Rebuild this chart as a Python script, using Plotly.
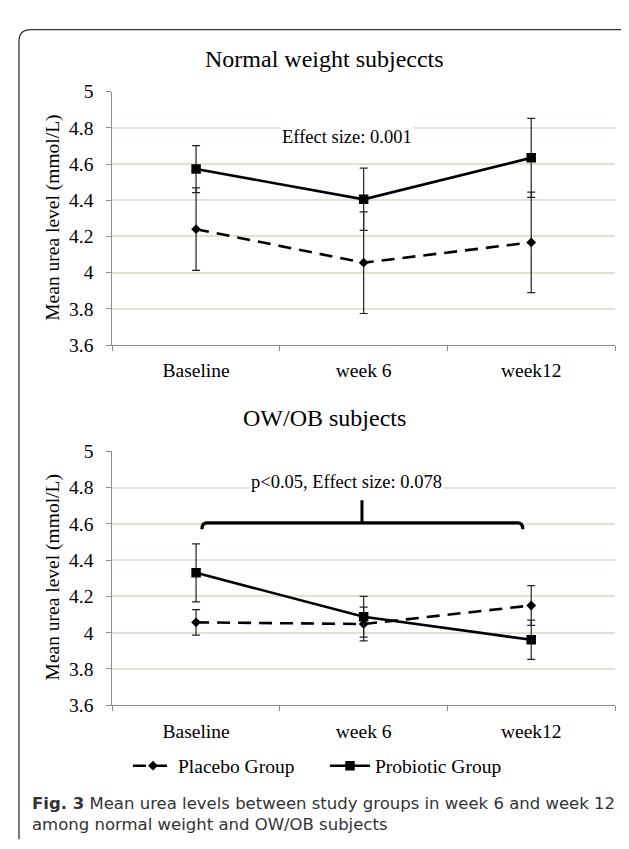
import plotly.graph_objects as go

# ---------------- data ----------------
categories = ["Baseline", "week 6", "week12"]

normal_placebo = [4.24, 4.055, 4.167]
normal_placebo_err = [0.228, 0.281, 0.278]
normal_probiotic = [4.572, 4.405, 4.634]
normal_probiotic_err = [0.13, 0.172, 0.218]

ow_placebo = [4.057, 4.048, 4.15]
ow_placebo_err = [0.07, 0.093, 0.11]
ow_probiotic = [4.33, 4.088, 3.961]
ow_probiotic_err = [0.16, 0.112, 0.108]

y_tick_vals = [3.6, 3.8, 4.0, 4.2, 4.4, 4.6, 4.8, 5.0]
y_tick_text = ["3.6", "3.8", "4", "4.2", "4.4", "4.6", "4.8", "5"]

top_title = "Normal weight subjeccts"
bottom_title = "OW/OB subjects"
top_note = "Effect size: 0.001"
bottom_note = "p<0.05, Effect size: 0.078"
y_title = "Mean urea level (mmol/L)"
series_names = ["Placebo Group", "Probiotic Group"]
caption = ("<b>Fig. 3</b> Mean urea levels between study groups in week 6 and week 12"
           "<br>among normal weight and OW/OB subjects")

# ---------------- layout helpers ----------------
W, H = 629, 849
SERIF = "Liberation Serif, Times New Roman, serif"
SANS = "DejaVu Sans, Open Sans, sans-serif"


def px(x):
    return x / W


def py(y):
    return 1 - y / H


x_dom = [px(104.3), px(607)]
top_dom = [py(335.3), py(75.5)]
bot_dom = [py(704.7), py(444.3)]

fig = go.Figure()


def add_series(xa, ya, placebo, placebo_err, probiotic, probiotic_err, show):
    fig.add_trace(go.Scatter(
        x=categories, y=placebo, xaxis=xa, yaxis=ya,
        name=series_names[0], showlegend=show, mode="lines+markers",
        line=dict(color="black", width=2.6, dash="13px,8px"),
        marker=dict(symbol="diamond", size=7.5, color="black"),
        error_y=dict(type="data", array=placebo_err, visible=True,
                     color="#222222", thickness=1.2, width=4),
    ))
    fig.add_trace(go.Scatter(
        x=categories, y=probiotic, xaxis=xa, yaxis=ya,
        name=series_names[1], showlegend=show, mode="lines+markers",
        line=dict(color="black", width=2.6),
        marker=dict(symbol="square", size=9.5, color="black"),
        error_y=dict(type="data", array=probiotic_err, visible=True,
                     color="#222222", thickness=1.2, width=4),
    ))


add_series("x", "y", normal_placebo, normal_placebo_err,
           normal_probiotic, normal_probiotic_err, False)
add_series("x2", "y2", ow_placebo, ow_placebo_err,
           ow_probiotic, ow_probiotic_err, True)

axis_x = dict(
    type="category", range=[-0.5, 2.5], tickson="boundaries",
    ticks="outside", ticklen=5, tickcolor="#8c8c8c", tickwidth=1,
    showline=True, linecolor="#8c8c8c", linewidth=1, showgrid=False,
    tickfont=dict(family=SERIF, size=19.5, color="black"),
    ticklabelstandoff=8,
    domain=x_dom, fixedrange=True, zeroline=False,
)
axis_y = dict(
    range=[3.6, 5.0], tickvals=y_tick_vals, ticktext=y_tick_text,
    ticks="outside", ticklen=5, tickcolor="#8c8c8c", tickwidth=1,
    showline=True, linecolor="#8c8c8c", linewidth=1,
    showgrid=True, gridcolor="#e4e0d3", gridwidth=1.6,
    tickfont=dict(family=SERIF, size=19.5, color="black"),
    ticklabelstandoff=9, zeroline=False, fixedrange=True,
)

fig.update_layout(
    width=W, height=H, autosize=False,
    margin=dict(l=0, r=0, t=0, b=0),
    paper_bgcolor="white", plot_bgcolor="white",
    xaxis=dict(axis_x, anchor="y"),
    yaxis=dict(axis_y, domain=top_dom, anchor="x"),
    xaxis2=dict(axis_x, anchor="y2"),
    yaxis2=dict(axis_y, domain=bot_dom, anchor="x2"),
    showlegend=True,
    legend=dict(orientation="h", x=px(120), y=py(767), xanchor="left",
                yanchor="middle", font=dict(family=SERIF, size=19.5, color="black"),
                bgcolor="rgba(0,0,0,0)", itemwidth=40, tracegroupgap=0,
                entrywidth=142, entrywidthmode="pixels"),
)

ann = []


def paper_text(text, x, y, size, family=SERIF, angle=0, xanchor="center", color="black"):
    ann.append(dict(text=text, x=px(x), y=py(y), xref="paper", yref="paper",
                    xanchor=xanchor, yanchor="middle", textangle=angle,
                    showarrow=False, align="left",
                    font=dict(family=family, size=size, color=color)))


paper_text(top_title, 317, 41.7, 24)
paper_text(bottom_title, 317, 410, 24)
paper_text(y_title, 45, 204.8, 19.5, angle=-90)
paper_text(y_title, 45, 573.6, 19.5, angle=-90)
paper_text(caption, 22, 816, 16.5, family=SANS, xanchor="left", color="#333333")

ann.append(dict(text=top_note, x=0.9, y=4.751, xref="x", yref="y",
                xanchor="center", yanchor="middle",
                showarrow=False, bgcolor="white",
                font=dict(family=SERIF, size=18.5, color="black")))
ann.append(dict(text=bottom_note, x=0.897, y=4.83, xref="x2", yref="y2",
                xanchor="center", yanchor="middle",
                showarrow=False, bgcolor="white",
                font=dict(family=SERIF, size=18.5, color="black")))
fig.update_layout(annotations=ann)

# significance bracket (bottom panel), in data units of x2/y2
b_left, b_right, b_mid = 0.035, 1.95, 0.99
b_level, b_foot, b_peak = 4.605, 4.57, 4.73
bracket_path = (
    f"M {b_left},{b_foot} Q {b_left},{b_level} {b_left + 0.03},{b_level} "
    f"L {b_right - 0.03},{b_level} Q {b_right},{b_level} {b_right},{b_foot}"
)
shapes = [
    dict(type="path", path=bracket_path, xref="x2", yref="y2",
         line=dict(color="black", width=3.2)),
    dict(type="line", x0=b_mid, x1=b_mid, y0=b_level, y1=b_peak,
         xref="x2", yref="y2", line=dict(color="black", width=3)),
]

# outer frame (pixels -> paper)
frame = (
    f"M {px(11)},{py(842)} L {px(11)},{py(24)} Q {px(11)},{py(12)} {px(23)},{py(12)} "
    f"L {px(617)},{py(12)} Q {px(627)},{py(12)} {px(627)},{py(20)}"
)
shapes.append(dict(type="path", path=frame, xref="paper", yref="paper",
                   line=dict(color="#333333", width=1.3)))
fig.update_layout(shapes=shapes)

fig.write_html("out.html")
